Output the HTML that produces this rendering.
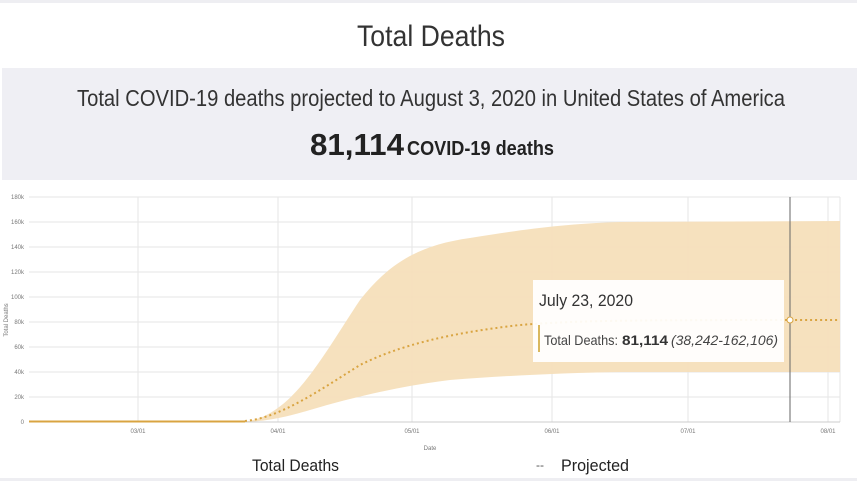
<!DOCTYPE html>
<html><head><style>body{margin:0;background:#fff}svg{display:block}</style></head><body>
<svg width="857" height="481" viewBox="0 0 857 481" xmlns="http://www.w3.org/2000/svg" font-family="Liberation Sans Narrow, Liberation Sans, sans-serif">
<rect x="0" y="0" width="857" height="481" fill="#fff"/>
<rect x="0" y="0" width="857" height="3" fill="#eeeef2"/>
<text x="431" y="46" font-size="30" fill="#333" text-anchor="middle" textLength="148" lengthAdjust="spacingAndGlyphs">Total Deaths</text>
<rect x="2" y="68" width="855" height="112" fill="#efeff4"/>
<text x="431" y="106" font-size="23" fill="#333" text-anchor="middle" textLength="708" lengthAdjust="spacingAndGlyphs">Total COVID-19 deaths projected to August 3, 2020 in United States of America</text>
<text x="310" y="155" font-size="31" font-weight="bold" fill="#222" textLength="94" lengthAdjust="spacingAndGlyphs">81,114</text>
<text x="407" y="155" font-size="20" font-weight="bold" fill="#222" textLength="147" lengthAdjust="spacingAndGlyphs">COVID-19 deaths</text>
<g stroke="#e6e6e6" stroke-width="1">
<line x1="29" y1="197" x2="840" y2="197"/><line x1="29" y1="222" x2="840" y2="222"/><line x1="29" y1="247" x2="840" y2="247"/><line x1="29" y1="272" x2="840" y2="272"/><line x1="29" y1="297" x2="840" y2="297"/><line x1="29" y1="322" x2="840" y2="322"/><line x1="29" y1="347" x2="840" y2="347"/><line x1="29" y1="372" x2="840" y2="372"/><line x1="29" y1="397" x2="840" y2="397"/>
<line x1="138" y1="197" x2="138" y2="422"/><line x1="278" y1="197" x2="278" y2="422"/><line x1="412" y1="197" x2="412" y2="422"/><line x1="552" y1="197" x2="552" y2="422"/><line x1="688" y1="197" x2="688" y2="422"/><line x1="828" y1="197" x2="828" y2="422"/><line x1="840" y1="197" x2="840" y2="422"/>
</g>
<path d="M240 422 C290 420 320 360 360 300 C390 262 420 245 470 238 C520 230 560 224 620 222 L840 221 L840 372 L620 372 C560 373 500 376 450 380 C400 386 350 398 310 410 C280 419 260 422 240 422 Z" fill="#f6dfbb" opacity="0.95"/>
<line x1="29" y1="422" x2="840" y2="422" stroke="#ccc"/>
<line x1="29" y1="421.5" x2="245" y2="421.5" stroke="#d9a441" stroke-width="2"/>
<path d="M245 421 C280 418 320 390 360 365 C400 345 450 333 520 325 C580 320 650 320 840 320" fill="none" stroke="#d9a441" stroke-width="2" stroke-dasharray="2,3"/>
<line x1="790" y1="197" x2="790" y2="422" stroke="#666" stroke-width="1"/>
<circle cx="790" cy="320" r="3" fill="#fff" stroke="#d9a441"/>
<g font-size="6" fill="#777" text-anchor="end">
<text x="24" y="199">180k</text><text x="24" y="224">160k</text><text x="24" y="249">140k</text><text x="24" y="274">120k</text><text x="24" y="299">100k</text><text x="24" y="324">80k</text><text x="24" y="349">60k</text><text x="24" y="374">40k</text><text x="24" y="399">20k</text><text x="24" y="424">0</text>
</g>
<g font-size="6" fill="#777" text-anchor="middle">
<text x="138" y="433">03/01</text><text x="278" y="433">04/01</text><text x="412" y="433">05/01</text><text x="552" y="433">06/01</text><text x="688" y="433">07/01</text><text x="828" y="433">08/01</text>
<text x="430" y="450">Date</text>
</g>
<text x="0" y="0" font-size="6" fill="#777" text-anchor="middle" transform="translate(8 320) rotate(-90)">Total Deaths</text>
<rect x="533" y="280" width="251" height="82" fill="#fff" opacity="0.93"/>
<text x="539" y="306" font-size="17" fill="#333" textLength="94" lengthAdjust="spacingAndGlyphs">July 23, 2020</text>
<rect x="538" y="325" width="2" height="27" fill="#d9b860"/>
<text x="544" y="345" font-size="14" fill="#444" textLength="74" lengthAdjust="spacingAndGlyphs">Total Deaths:</text>
<text x="622" y="345" font-size="14" font-weight="bold" fill="#333" textLength="46" lengthAdjust="spacingAndGlyphs">81,114</text>
<text x="671" y="345" font-size="14" font-style="italic" fill="#444" textLength="107" lengthAdjust="spacingAndGlyphs">(38,242-162,106)</text>
<text x="252" y="471" font-size="17" fill="#222" textLength="87" lengthAdjust="spacingAndGlyphs">Total Deaths</text>
<text x="536" y="469" font-size="12" fill="#555">--</text>
<text x="561" y="471" font-size="17" fill="#222" textLength="68" lengthAdjust="spacingAndGlyphs">Projected</text>
<rect x="0" y="478" width="857" height="3" fill="#eeeef2"/>
</svg>
</body></html>
